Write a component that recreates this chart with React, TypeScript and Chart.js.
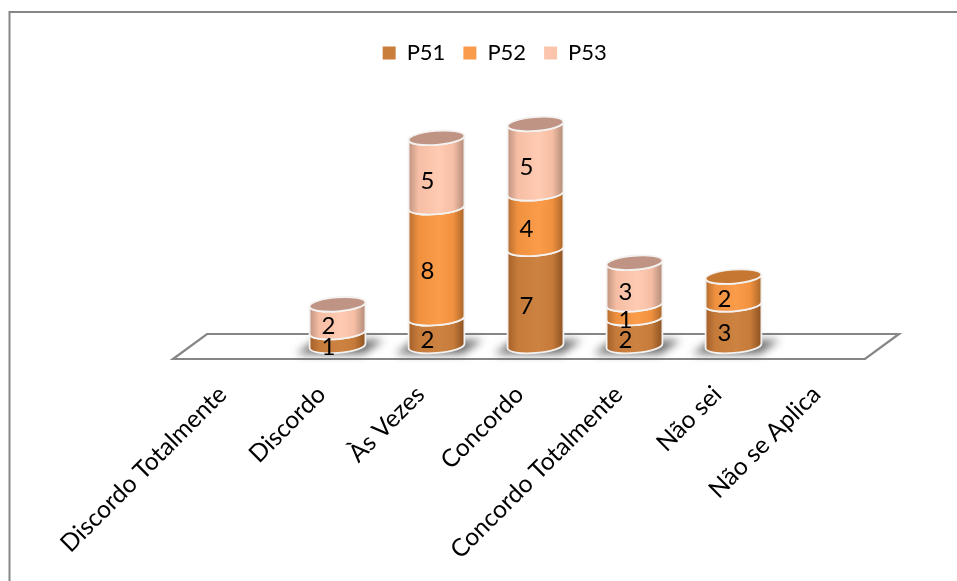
import React, { useEffect, useRef } from "react";
import { Chart, registerables } from "chart.js";

Chart.register(...registerables);

const categories = [
  "Discordo Totalmente",
  "Discordo",
  "Às Vezes",
  "Concordo",
  "Concordo Totalmente",
  "Não sei",
  "Não se Aplica",
];
const p51 = [0, 1, 2, 7, 2, 3, 0];
const p52 = [0, 0, 8, 4, 1, 2, 0];
const p53 = [0, 2, 5, 5, 3, 0, 0];

const seriesNames = ["P51", "P52", "P53"];
const seriesValues = [p51, p52, p53];
const swatchColors = ["#C97E3B", "#F99B4B", "#FCC5AB"];
const bodyStops = [
  ["#A3602A", "#C67B3A", "#CC8240", "#8C5222"],
  ["#B56D30", "#F0913F", "#FB9C4A", "#A96528"],
  ["#BE9380", "#F6BEA4", "#FFCBB2", "#B08A78"],
];
const capColors = ["#B06C32", "#C67832", "#C09484"];

const FONT_FAMILY = "Lato, 'Open Sans', sans-serif";
const FRAME_COLOR = "#868686";

const ELLIPSE_RY = 7;
const ELLIPSE_TILT = -0.08;

// Lower half of a tilted ellipse, walked left-to-right or right-to-left.
function lowerArc(ctx: CanvasRenderingContext2D, x: number, y: number, rx: number, reverse: boolean) {
  if (reverse) ctx.ellipse(x, y, rx, ELLIPSE_RY, ELLIPSE_TILT, Math.PI, 0, true);
  else ctx.ellipse(x, y, rx, ELLIPSE_RY, ELLIPSE_TILT, 0, Math.PI, false);
}

const cylinderPlugin = {
  id: "cylinders",
  beforeDraw(chart: any) {
    const { ctx, width, height, chartArea } = chart;
    ctx.save();
    ctx.fillStyle = "#FFFFFF";
    ctx.fillRect(0, 0, width, height);
    ctx.strokeStyle = FRAME_COLOR;
    ctx.lineWidth = 2;
    ctx.strokeRect(9.5, 12, width + 20, height + 20);

    // Floor of the 3D plot
    const base = chart.scales.y.getPixelForValue(0);
    const front = base + 13;
    const back = base - 12;
    ctx.beginPath();
    ctx.moveTo(chartArea.left - 16, front);
    ctx.lineTo(chartArea.right - 17, front);
    ctx.lineTo(chartArea.right + 17, back);
    ctx.lineTo(chartArea.left + 18, back);
    ctx.closePath();
    ctx.lineWidth = 2.2;
    ctx.stroke();
    ctx.restore();
  },
  beforeDatasetsDraw(chart: any) {
    const { ctx } = chart;
    const metas = seriesValues.map((_, i) => chart.getDatasetMeta(i));

    categories.forEach((_, c) => {
      const segments = metas
        .map((meta: any, s: number) => ({ s, el: meta.data[c], v: seriesValues[s][c] }))
        .filter((seg) => seg.v > 0);
      if (!segments.length) return;
      const { x, width: w, base } = segments[0].el.getProps(["x", "width", "base"], true);
      const rx = w / 2;

      // Soft cast shadow on the floor
      ctx.save();
      ctx.filter = "blur(4px)";
      ctx.fillStyle = "rgba(70,70,70,0.8)";
      ctx.beginPath();
      ctx.moveTo(x - rx - 13, base + 8);
      ctx.lineTo(x - rx + 6, base - 6);
      ctx.lineTo(x + rx + 18, base - 6);
      ctx.lineTo(x + rx - 2, base + 8);
      ctx.closePath();
      ctx.fill();
      ctx.restore();

      segments.forEach(({ s, el }) => {
        const { y, base: yBase } = el.getProps(["y", "base"], true);
        const g = ctx.createLinearGradient(x - rx, 0, x + rx, 0);
        const stops = bodyStops[s];
        g.addColorStop(0, stops[0]);
        g.addColorStop(0.18, stops[1]);
        g.addColorStop(0.55, stops[2]);
        g.addColorStop(0.8, stops[1]);
        g.addColorStop(1, stops[3]);

        ctx.beginPath();
        lowerArc(ctx, x, y, rx, false);
        lowerArc(ctx, x, yBase, rx, true);
        ctx.closePath();
        ctx.fillStyle = g;
        ctx.fill();
        ctx.strokeStyle = "#F4F2F0";
        ctx.lineWidth = 1.8;
        ctx.stroke();
      });

      // Cap of the stack
      const top = segments[segments.length - 1];
      const topY = top.el.getProps(["y"], true).y;
      ctx.beginPath();
      ctx.ellipse(x, topY, rx, ELLIPSE_RY, ELLIPSE_TILT, 0, Math.PI * 2);
      ctx.fillStyle = capColors[top.s];
      ctx.fill();
      ctx.strokeStyle = "#F4F2F0";
      ctx.lineWidth = 1.8;
      ctx.stroke();

      // Value labels
      ctx.save();
      ctx.fillStyle = "#000000";
      ctx.font = `24px ${FONT_FAMILY}`;
      ctx.textAlign = "center";
      ctx.textBaseline = "middle";
      segments.forEach(({ el, v }) => {
        const { y, base: yBase } = el.getProps(["y", "base"], true);
        ctx.fillText(String(v), x - 9, (y + yBase) / 2 + 8.5);
      });
      ctx.restore();
    });
    return false;
  },
};

export default function App() {
  const ref = useRef<HTMLCanvasElement>(null);

  useEffect(() => {
    const chart = new Chart(ref.current!, {
      type: "bar",
      data: {
        labels: categories,
        datasets: seriesNames.map((name, i) => ({
          label: name,
          data: seriesValues[i],
          backgroundColor: swatchColors[i],
          borderWidth: 0,
          barThickness: 56,
        })),
      },
      options: {
        responsive: false,
        animation: false,
        layout: { padding: { left: 107.5, right: 75, top: 24, bottom: 0 } },
        plugins: {
          tooltip: { enabled: false },
          legend: {
            position: "top",
            labels: {
              boxWidth: 13,
              boxHeight: 13,
              padding: 18,
              color: "#000000",
              font: { family: FONT_FAMILY, size: 22 },
            },
          },
        },
        scales: {
          x: {
            stacked: true,
            grid: { display: false },
            border: { display: false },
            ticks: {
              color: "#000000",
              font: { family: FONT_FAMILY, size: 24.5 },
              minRotation: 45,
              maxRotation: 45,
              autoSkip: false,
              padding: 26,
              labelOffset: -16,
            },
            afterFit(scale: any) {
              scale.height = 581 - 346;
              scale.paddingLeft = 0;
              scale.paddingRight = 0;
            },
          },
          y: {
            stacked: true,
            min: 0,
            max: 19.6,
            grid: { display: false },
            border: { display: false },
            ticks: { display: false },
            afterFit(scale: any) {
              scale.width = 81.5;
            },
          },
        },
      },
      plugins: [cylinderPlugin],
    });
    return () => chart.destroy();
  }, []);

  return (
    <div style={{ position: "fixed", left: 0, top: 0, width: 957, height: 581 }}>
      <canvas ref={ref} width={957} height={581} style={{ display: "block" }} />
    </div>
  );
}
